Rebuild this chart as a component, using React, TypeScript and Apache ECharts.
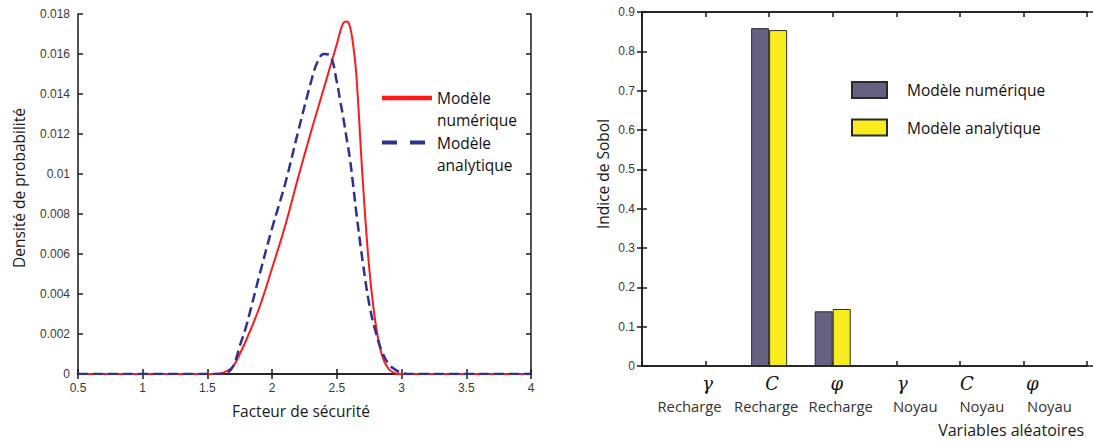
import React, { useEffect, useRef } from 'react';
import * as echarts from 'echarts';

// ---- Left chart: probability density of the safety factor ----
const densityX = [0.5, 1.5, 1.6, 1.65, 1.7, 1.75, 1.8, 1.9, 2.0, 2.1, 2.2, 2.3, 2.35, 2.4, 2.45, 2.5, 2.525, 2.55, 2.575, 2.6, 2.625, 2.65, 2.7, 2.75, 2.8, 2.85, 2.9, 2.95, 3.0, 3.05, 4.0];
const numericDensity = [0, 0, 0.00003, 0.00015, 0.0004, 0.001, 0.0017, 0.0033, 0.0053, 0.0074, 0.0098, 0.0121, 0.0132, 0.0143, 0.0154, 0.0165, 0.0171, 0.01755, 0.01762, 0.0174, 0.0165, 0.015, 0.0097, 0.0053, 0.0025, 0.0009, 0.00025, 0.00004, 0, 0, 0];
const analyticDensity = [0, 0, 0, 0.00005, 0.0004, 0.0014, 0.0024, 0.0049, 0.0073, 0.0095, 0.0121, 0.0146, 0.0156, 0.016, 0.0159, 0.0146, 0.0137, 0.0128, 0.0118, 0.0108, 0.0095, 0.0081, 0.0056, 0.0035, 0.0021, 0.0011, 0.0005, 0.00022, 0.00006, 0, 0];

// ---- Right chart: Sobol indices ----
const sobolSymbols = ['', 'γ', 'C', 'φ', 'γ', 'C', 'φ', ''];
const sobolZones = ['', 'Recharge', 'Recharge', 'Recharge', 'Noyau', 'Noyau', 'Noyau', ''];
const sobolNumeric = [null, 0, 0.859, 0.139, 0, 0, 0, null];
const sobolAnalytic = [null, 0, 0.854, 0.145, 0, 0, 0, null];

const NUM_LINE = 'Modèle\nnumérique';
const ANA_LINE = 'Modèle\nanalytique';
const NUM_BAR = 'Modèle numérique';
const ANA_BAR = 'Modèle analytique';

const SANS = '"Open Sans", sans-serif';
const ARIAL = '"Liberation Sans", Arial, sans-serif';

export default function App() {
  const ref = useRef<HTMLDivElement>(null);

  useEffect(() => {
    document.body.style.margin = '0';
    if (!ref.current) return;
    const chart = echarts.init(ref.current, null, { renderer: 'svg' });

    const lineCol = '#1a1a1a';
    const axisLine = { show: true, lineStyle: { color: lineCol, width: 1.5 } };
    const tick = { show: true, inside: true, length: 5, lineStyle: { color: lineCol, width: 1.5 } };
    const tickLabel = { color: '#3a3a3a', fontSize: 12, fontFamily: ARIAL };
    const numFmt = (v: number) => String(+Number(v).toFixed(4));

    // category label fine placement (px shifts of symbol / zone text)
    const symShift = [0, 2, 3, 4, 6, 7, 9, 0];
    const zoneShift = [0, -16, -3, 8, 19, 22, 26, 0];
    const pad = (d: number) => (d >= 0 ? [0, 0, 0, 2 * d] : [0, -2 * d, 0, 0]);
    const rich: any = {};
    const categories = sobolSymbols.map((s, i) => `${i}|${s}|${sobolZones[i]}`);
    categories.forEach((_, i) => {
      rich['s' + i] = { fontFamily: '"DejaVu Serif", serif', fontStyle: 'italic', fontSize: 18, lineHeight: 24, color: '#111', align: 'center', padding: pad(symShift[i]) };
      rich['l' + i] = { fontFamily: SANS, fontSize: 14.8, lineHeight: 22, color: '#333', align: 'center', padding: pad(zoneShift[i]) };
    });

    const option: any = {
      animation: false,
      backgroundColor: '#ffffff',
      grid: [
        { left: 78, top: 14, width: 453, height: 360 },
        { left: 642, top: 12, width: 445, height: 354 },
        { left: 642, top: 12, width: 454, height: 354 },
      ],
      xAxis: [
        {
          gridIndex: 0, type: 'value', min: 0.5, max: 4, interval: 0.5, position: 'bottom',
          axisLine, axisTick: tick, splitLine: { show: false },
          axisLabel: { ...tickLabel, margin: 8, formatter: numFmt },
        },
        {
          gridIndex: 0, type: 'value', min: 0.5, max: 4, interval: 0.5, position: 'top',
          axisLine, axisTick: tick, splitLine: { show: false }, axisLabel: { show: false },
        },
        {
          gridIndex: 1, type: 'category', data: categories, boundaryGap: false, position: 'bottom',
          axisLine, axisTick: { ...tick, interval: 0 }, splitLine: { show: false },
          axisLabel: {
            interval: 0, margin: 5,
            formatter: (v: string) => {
              const [i, s, l] = v.split('|');
              if (!s) return '';
              return `{s${i}|${s}}\n{l${i}|${l}}`;
            },
            rich,
          },
        },
        {
          gridIndex: 1, type: 'category', data: categories, boundaryGap: false, position: 'top',
          axisLine, axisTick: { ...tick, interval: 0 }, splitLine: { show: false }, axisLabel: { show: false },
        },
        {
          gridIndex: 2, type: 'value', min: 0, max: 1, position: 'bottom',
          axisLine, axisTick: { show: false }, splitLine: { show: false }, axisLabel: { show: false },
        },
        {
          gridIndex: 2, type: 'value', min: 0, max: 1, position: 'top',
          axisLine, axisTick: { show: false }, splitLine: { show: false }, axisLabel: { show: false },
        },
      ],
      yAxis: [
        {
          gridIndex: 0, type: 'value', min: 0, max: 0.018, interval: 0.002, position: 'left',
          axisLine, axisTick: tick, splitLine: { show: false },
          axisLabel: { ...tickLabel, margin: 8, formatter: numFmt },
        },
        {
          gridIndex: 0, type: 'value', min: 0, max: 0.018, interval: 0.002, position: 'right',
          axisLine, axisTick: tick, splitLine: { show: false }, axisLabel: { show: false },
        },
        {
          gridIndex: 1, type: 'value', min: 0, max: 0.9, interval: 0.1, position: 'left',
          axisLine, axisTick: tick, splitLine: { show: false },
          axisLabel: { ...tickLabel, margin: 7, formatter: numFmt },
        },
        {
          gridIndex: 2, type: 'value', min: 0, max: 0.9, interval: 0.1, position: 'right',
          axisLine, axisTick: tick, splitLine: { show: false }, axisLabel: { show: false },
        },
      ],
      legend: [
        {
          data: [{ name: NUM_LINE, itemStyle: { color: '#ff1a1a' } }],
          orient: 'vertical', left: 382, top: 64.4, padding: 0,
          icon: 'rect', itemWidth: 50, itemHeight: 4.5, symbolKeepAspect: false, selectedMode: false,
          formatter: (n: string) => '\n' + n,
          textStyle: { fontFamily: SANS, fontSize: 15.5, color: '#111', lineHeight: 22.4 },
        },
        {
          data: [{ name: ANA_LINE, itemStyle: { color: '#2e3192' } }],
          orient: 'vertical', left: 382, top: 108.9, padding: 0,
          icon: 'path://M0,0H15V4H0Z M28,0H43V4H28Z', itemWidth: 43, itemHeight: 4, symbolKeepAspect: false, selectedMode: false,
          formatter: (n: string) => '\n' + n,
          textStyle: { fontFamily: SANS, fontSize: 15.5, color: '#111', lineHeight: 22.4, padding: [0, 0, 0, 7] },
        },
        {
          data: [NUM_BAR, ANA_BAR], orient: 'vertical', left: 851, top: 81, padding: 0,
          itemWidth: 35, itemHeight: 16, itemGap: 19.5, icon: 'rect', selectedMode: false,
          textStyle: { fontFamily: SANS, fontSize: 15.5, color: '#111', lineHeight: 16, padding: [0, 0, 0, 15] },
        },
      ],
      graphic: [
        { type: 'text', x: 19, y: 188, rotation: Math.PI / 2, style: { text: 'Densité de probabilité', fontFamily: SANS, fontSize: 15.5, fill: '#1a1a1a', align: 'center', verticalAlign: 'middle' } },
        { type: 'text', x: 301, y: 411, style: { text: 'Facteur de sécurité', fontFamily: SANS, fontSize: 15.5, fill: '#1a1a1a', align: 'center', verticalAlign: 'middle' } },
        { type: 'text', x: 603, y: 174, rotation: Math.PI / 2, style: { text: 'Indice de Sobol', fontFamily: SANS, fontSize: 15.5, fill: '#1a1a1a', align: 'center', verticalAlign: 'middle' } },
        { type: 'text', x: 1084, y: 430, style: { text: 'Variables aléatoires', fontFamily: SANS, fontSize: 16, lineHeight: 18, fill: '#1a1a1a', align: 'right', verticalAlign: 'middle' } },
      ],
      series: [
        {
          name: NUM_LINE, type: 'line', xAxisIndex: 0, yAxisIndex: 0,
          data: densityX.map((x, i) => [x, numericDensity[i]]),
          symbol: 'none', smooth: 0.4,
          lineStyle: { color: '#ff1a1a', width: 2 }, itemStyle: { color: '#ff1a1a' }, z: 3,
        },
        {
          name: ANA_LINE, type: 'line', xAxisIndex: 0, yAxisIndex: 0,
          data: densityX.map((x, i) => [x, analyticDensity[i]]),
          symbol: 'none', smooth: 0.4,
          lineStyle: { color: '#2e3192', width: 2.5, type: [10, 5] }, itemStyle: { color: '#2e3192' }, z: 4,
        },
        {
          name: NUM_BAR, type: 'bar', xAxisIndex: 2, yAxisIndex: 2,
          data: sobolNumeric, barWidth: 18, barGap: '0%',
          itemStyle: { color: '#676080', borderColor: '#2a2a2a', borderWidth: 1 },
        },
        {
          name: ANA_BAR, type: 'bar', xAxisIndex: 2, yAxisIndex: 2,
          data: sobolAnalytic, barWidth: 18, barGap: '0%',
          itemStyle: { color: '#f8ec1f', borderColor: '#2a2a2a', borderWidth: 1 },
        },
      ],
    };

    chart.setOption(option);
    return () => chart.dispose();
  }, []);

  return <div ref={ref} style={{ width: 1093, height: 441 }} />;
}
